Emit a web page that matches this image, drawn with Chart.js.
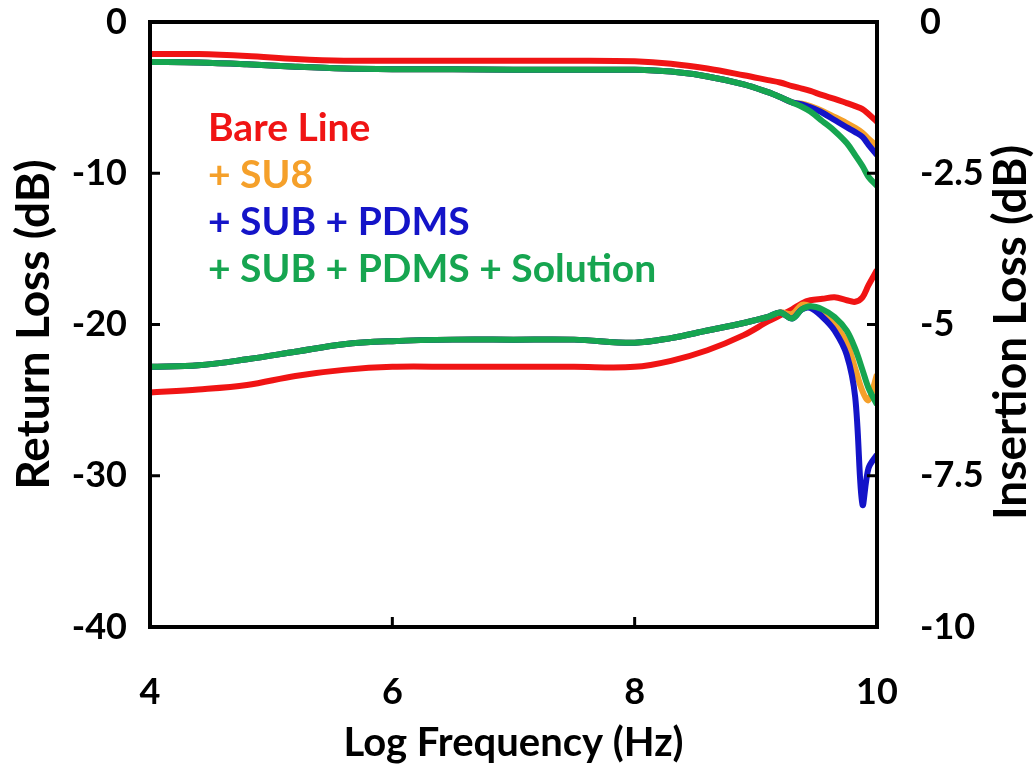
<!DOCTYPE html>
<html>
<head>
<meta charset="utf-8">
<script src="https://cdn.jsdelivr.net/npm/chart.js@4"></script>
<style>
  html, body { margin: 0; padding: 0; background: #fff; }
  #wrap { width: 1034px; height: 767px; }
</style>
</head>
<body>
<div id="wrap"><canvas id="loss-chart" width="1034" height="767"></canvas></div>
<script>
// log10 of frequency (Hz)
const freq = [4.0, 4.4, 4.8, 5.2, 5.6, 6.0, 6.5, 7.0, 7.5, 8.0, 8.3, 8.6, 8.9, 9.1, 9.2, 9.3, 9.38, 9.45, 9.55, 9.65, 9.75, 9.82, 9.88, 9.93, 10.0];

// insertion loss, dB (right axis)
const ilBare     = [-0.53, -0.53, -0.56, -0.61, -0.64, -0.64, -0.64, -0.64, -0.64, -0.65, -0.69, -0.77, -0.88, -0.96, -1.00, -1.06, -1.10, -1.14, -1.21, -1.27, -1.34, -1.39, -1.44, -1.52, -1.65];
const ilSu8      = [-0.66, -0.67, -0.70, -0.74, -0.77, -0.78, -0.78, -0.79, -0.79, -0.79, -0.82, -0.90, -1.03, -1.16, -1.24, -1.33, -1.35, -1.39, -1.47, -1.57, -1.67, -1.75, -1.83, -1.93, -2.05];
const ilPdms     = [-0.66, -0.67, -0.70, -0.74, -0.77, -0.78, -0.78, -0.79, -0.79, -0.79, -0.82, -0.90, -1.03, -1.16, -1.24, -1.33, -1.36, -1.41, -1.50, -1.62, -1.74, -1.82, -1.90, -2.03, -2.20];
const ilSolution = [-0.66, -0.67, -0.70, -0.74, -0.77, -0.78, -0.78, -0.79, -0.79, -0.79, -0.82, -0.90, -1.03, -1.16, -1.24, -1.33, -1.40, -1.48, -1.64, -1.80, -2.00, -2.20, -2.38, -2.56, -2.71];

// return loss, dB (left axis)
const rlBare     = [-24.5, -24.3, -24.0, -23.4, -23.0, -22.8, -22.8, -22.8, -22.8, -22.8, -22.4, -21.7, -20.7, -19.8, -19.4, -19.0, -18.6, -18.4, -18.3, -18.2, -18.4, -18.5, -18.2, -17.4, -16.4];
const rlSu8      = [-22.8, -22.7, -22.3, -21.8, -21.3, -21.1, -21.0, -21.0, -21.0, -21.2, -20.9, -20.4, -19.9, -19.5, -19.2, -19.3, -18.7, -18.8, -19.3, -20.0, -21.2, -22.9, -24.4, -25.0, -23.3];
const rlPdms     = [-22.8, -22.7, -22.3, -21.8, -21.3, -21.1, -21.0, -21.0, -21.0, -21.2, -20.9, -20.4, -19.9, -19.5, -19.2, -19.6, -19.0, -18.9, -19.5, -20.4, -22.0, -24.8, -31.9, -29.5, -28.6];
const rlSolution = [-22.8, -22.7, -22.3, -21.8, -21.3, -21.1, -21.0, -21.0, -21.0, -21.2, -20.9, -20.4, -19.9, -19.5, -19.2, -19.6, -19.0, -18.8, -19.0, -19.5, -20.4, -21.6, -23.0, -24.2, -25.3];

const seriesNames = ['Bare Line', '+ SU8', '+ SUB + PDMS', '+ SUB + PDMS + Solution'];
const seriesColors = ['#f01414', '#f5a02a', '#1414c8', '#16a550'];

const FONT = 'Lato, "Open Sans", "DejaVu Sans", sans-serif';

const pts = ys => ys.map((y, i) => ({ x: freq[i], y }));

function lossSet(ys, idx, axis) {
  return {
    label: seriesNames[idx] + (axis === 'y1' ? ' IL' : ' RL'),
    data: pts(ys),
    yAxisID: axis,
    borderColor: seriesColors[idx],
    borderWidth: 6,
    pointRadius: 0,
    tension: 0.35,
    fill: false,
    order: 3 - idx   // green drawn last, on top
  };
}

// frame, inward ticks, in-plot legend and the right axis title
const decorPlugin = {
  id: 'decor',
  afterDatasetsDraw(chart) {
    const { ctx, chartArea: a, scales } = chart;
    ctx.save();
    ctx.strokeStyle = '#000';
    ctx.lineWidth = 4;
    ctx.strokeRect(a.left, a.top, a.right - a.left, a.bottom - a.top);

    ctx.lineWidth = 3;
    ctx.beginPath();
    scales.y.ticks.forEach(t => {
      const y = scales.y.getPixelForValue(t.value);
      ctx.moveTo(a.left, y); ctx.lineTo(a.left + 10, y);
    });
    scales.y1.ticks.forEach(t => {
      const y = scales.y1.getPixelForValue(t.value);
      ctx.moveTo(a.right, y); ctx.lineTo(a.right - 10, y);
    });
    scales.x.ticks.forEach(t => {
      const x = scales.x.getPixelForValue(t.value);
      ctx.moveTo(x, a.bottom); ctx.lineTo(x, a.bottom - 10);
    });
    ctx.stroke();

    ctx.font = 'bold 39px ' + FONT;
    ctx.textBaseline = 'middle';
    ctx.textAlign = 'left';
    seriesNames.forEach((name, i) => {
      ctx.fillStyle = seriesColors[i];
      ctx.fillText(name, a.left + 58, a.top + 106 + i * 47);
    });

    ctx.font = 'bold 46px ' + FONT;
    ctx.translate(1011, (a.top + a.bottom) / 2 + 8);
    ctx.rotate(-Math.PI / 2);
    ctx.textAlign = 'center';
    ctx.fillStyle = '#000';
    ctx.fillText('Insertion Loss (dB)', 0, 0);
    ctx.restore();
  }
};

const tickFont = { family: FONT, size: 36, weight: 'bold' };
const titleFont = { family: FONT, size: 40, weight: 'bold' };

// vertical axes: no extra room above the top tick label
const fitVertical = w => s => { s.width = w; s.paddingTop = 0; s.paddingBottom = 0; };

new Chart(document.getElementById('loss-chart'), {
  type: 'line',
  data: {
    datasets: [
      lossSet(ilBare, 0, 'y1'),
      lossSet(ilSu8, 1, 'y1'),
      lossSet(ilPdms, 2, 'y1'),
      lossSet(ilSolution, 3, 'y1'),
      lossSet(rlBare, 0, 'y'),
      lossSet(rlSu8, 1, 'y'),
      lossSet(rlPdms, 2, 'y'),
      lossSet(rlSolution, 3, 'y')
    ]
  },
  options: {
    responsive: false,
    devicePixelRatio: 1,
    animation: false,
    layout: { padding: { top: 22, left: 0, right: 0, bottom: 0 } },
    plugins: { legend: { display: false }, tooltip: { enabled: false } },
    scales: {
      x: {
        type: 'linear', min: 4, max: 10,
        grid: { display: false }, border: { display: false },
        ticks: { stepSize: 2, color: '#000', font: tickFont, padding: 36 },
        title: { display: true, text: 'Log Frequency (Hz)', color: '#000', font: titleFont, padding: { top: 4, bottom: 0 } },
        afterFit: s => { s.height = 140; }
      },
      y: {
        position: 'left', min: -40, max: 0,
        grid: { display: false }, border: { display: false },
        ticks: { stepSize: 10, color: '#000', font: tickFont, padding: 15 },
        title: { display: true, text: 'Return Loss (dB)', color: '#000', font: { family: FONT, size: 46, weight: 'bold' }, padding: { top: 7, bottom: 0 } },
        afterFit: fitVertical(150)
      },
      y1: {
        position: 'right', min: -10, max: 0,
        grid: { display: false }, border: { display: false },
        ticks: { stepSize: 2.5, color: '#000', font: tickFont, padding: 35 },
        afterFit: fitVertical(157)
      }
    }
  },
  plugins: [decorPlugin]
});
</script>
</body>
</html>
